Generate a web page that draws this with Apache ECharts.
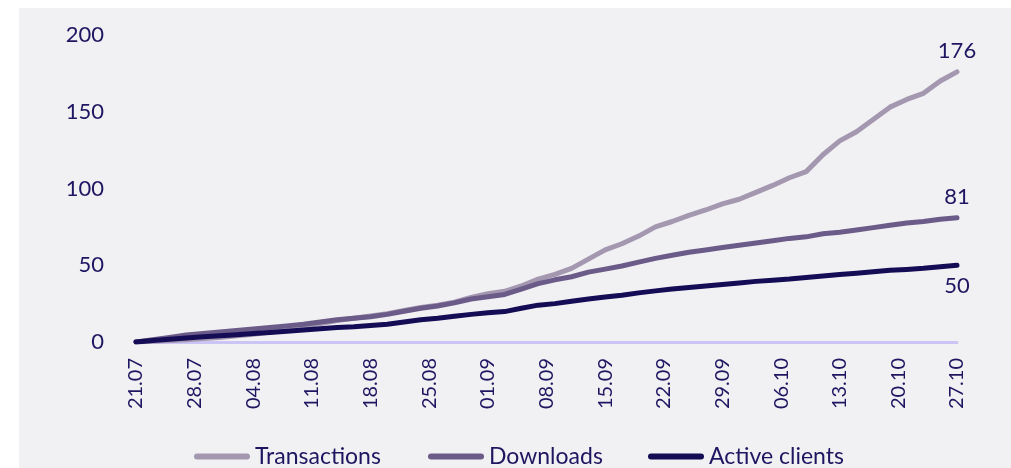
<!DOCTYPE html>
<html>
<head>
<meta charset="utf-8">
<script src="https://cdn.jsdelivr.net/npm/echarts@6/dist/echarts.min.js"></script>
<style>
html, body { margin: 0; padding: 0; background: #fff; }
#wrap { position: relative; width: 1011px; height: 468px; }
#growth-chart { position: absolute; left: 19px; top: 8px; width: 992px; height: 460px; }
</style>
</head>
<body>
<div id="wrap"><div id="growth-chart"></div></div>
<script>
// weekly tick labels (day 0 = 21.07)
var tickLabels = ['21.07', '28.07', '04.08', '11.08', '18.08', '25.08', '01.09', '08.09',
    '15.09', '22.09', '29.09', '06.10', '13.10', '20.10', '27.10'];

// sampled every 2 days
var days = [0, 2, 4, 6, 8, 10, 12, 14, 16, 18, 20, 22, 24, 26, 28, 30, 32, 34, 36, 38, 40, 42, 44, 46, 48,
    50, 52, 54, 56, 58, 60, 62, 64, 66, 68, 70, 72, 74, 76, 78, 80, 82, 84, 86, 88, 90, 92, 94, 96, 98];

var transactions = [0, 0.5, 1, 1.5, 2.2, 3, 4, 5, 6.5, 8, 10, 12, 14, 15.5, 17, 18.5, 20.5, 22.5, 24, 26, 29, 31.5, 33, 36.5, 41,
    44, 48, 54, 60, 64, 69, 75, 78.5, 82.5, 86, 90, 93, 97.5, 102, 107, 111, 122, 131, 137, 145, 153, 158, 162, 170, 176];

var downloads = [0, 1.5, 3, 4.5, 5.5, 6.5, 7.5, 8.5, 9.5, 10.5, 11.5, 13, 14.5, 15.5, 16.5, 18, 20, 22, 23.5, 25.5, 28, 29.5, 31, 34.5, 38,
    40.5, 42.5, 45.5, 47.5, 49.5, 52, 54.5, 56.5, 58.5, 60, 61.5, 63, 64.5, 66, 67.5, 68.5, 70.5, 71.5, 73, 74.5, 76, 77.5, 78.5, 80, 81];

var activeClients = [0, 1, 1.8, 2.6, 3.4, 4, 4.8, 5.5, 6.2, 7, 7.8, 8.6, 9.5, 10, 10.8, 11.5, 13, 14.5, 15.5, 16.8, 18, 19, 19.8, 22, 24,
    25, 26.5, 28, 29.3, 30.5, 32, 33.3, 34.5, 35.5, 36.5, 37.5, 38.5, 39.5, 40.3, 41, 42, 43, 44, 44.8, 45.8, 46.7, 47.3, 48, 49, 50];

var seriesNames = ['Transactions', 'Downloads', 'Active clients'];
var seriesColors = ['#a497b0', '#6b5b88', '#140c55'];
var textColor = '#1e1660';
var fontFamily = 'Lato, "Noto Sans", sans-serif';

function pairs(values) {
    return days.map(function (d, i) { return [d, values[i]]; });
}

function buildSeries(name, values, color, labelPos) {
    var last = days.length - 1;
    return {
        name: name,
        type: 'line',
        data: pairs(values),
        showSymbol: false,
        lineStyle: { color: color, width: 5, cap: 'round', join: 'round' },
        itemStyle: { color: color },
        markPoint: {
            symbol: 'circle',
            symbolSize: 1,
            itemStyle: { color: 'rgba(0,0,0,0)' },
            label: {
                show: true,
                position: labelPos,
                distance: 9,
                color: textColor,
                fontSize: 22,
                fontFamily: fontFamily,
                formatter: '{c}'
            },
            data: [{ coord: [days[last], values[last]], value: values[last] }]
        }
    };
}

// one legend per item so each sits where the original has it
function buildLegend(name, left) {
    return {
        data: [name],
        left: left,
        top: 432,
        icon: 'path://M3,0 H53 A3,3 0 0 1 53,6 H3 A3,3 0 0 1 3,0 Z',
        itemWidth: 56,
        itemHeight: 6,
        textStyle: { color: textColor, fontSize: 23, fontFamily: fontFamily }
    };
}

var myChart = echarts.init(document.getElementById('growth-chart'));

myChart.setOption({
    backgroundColor: '#f1f0f3',
    animation: false,
    color: seriesColors,
    grid: { left: 117, right: 54, top: 27, bottom: 126 },
    legend: [
        buildLegend(seriesNames[0], 170),
        buildLegend(seriesNames[1], 404),
        buildLegend(seriesNames[2], 624)
    ],
    xAxis: {
        type: 'value',
        min: 0,
        max: 98,
        interval: 7,
        axisLine: { show: true, lineStyle: { color: '#cbc5f6', width: 3 } },
        axisTick: { show: false },
        splitLine: { show: false },
        axisLabel: {
            rotate: 90,
            margin: 16,
            color: textColor,
            fontSize: 20,
            fontFamily: fontFamily,
            formatter: function (v) { return tickLabels[Math.round(v / 7)]; }
        }
    },
    yAxis: {
        type: 'value',
        min: 0,
        max: 200,
        interval: 50,
        axisLine: { show: false },
        axisTick: { show: false },
        splitLine: { show: false },
        axisLabel: { margin: 32, color: textColor, fontSize: 22, fontFamily: fontFamily }
    },
    series: [
        buildSeries(seriesNames[0], transactions, seriesColors[0], 'top'),
        buildSeries(seriesNames[1], downloads, seriesColors[1], 'top'),
        buildSeries(seriesNames[2], activeClients, seriesColors[2], 'bottom')
    ]
});
window.addEventListener('resize', function () {
    myChart.resize();
});
</script>
</body>
</html>
